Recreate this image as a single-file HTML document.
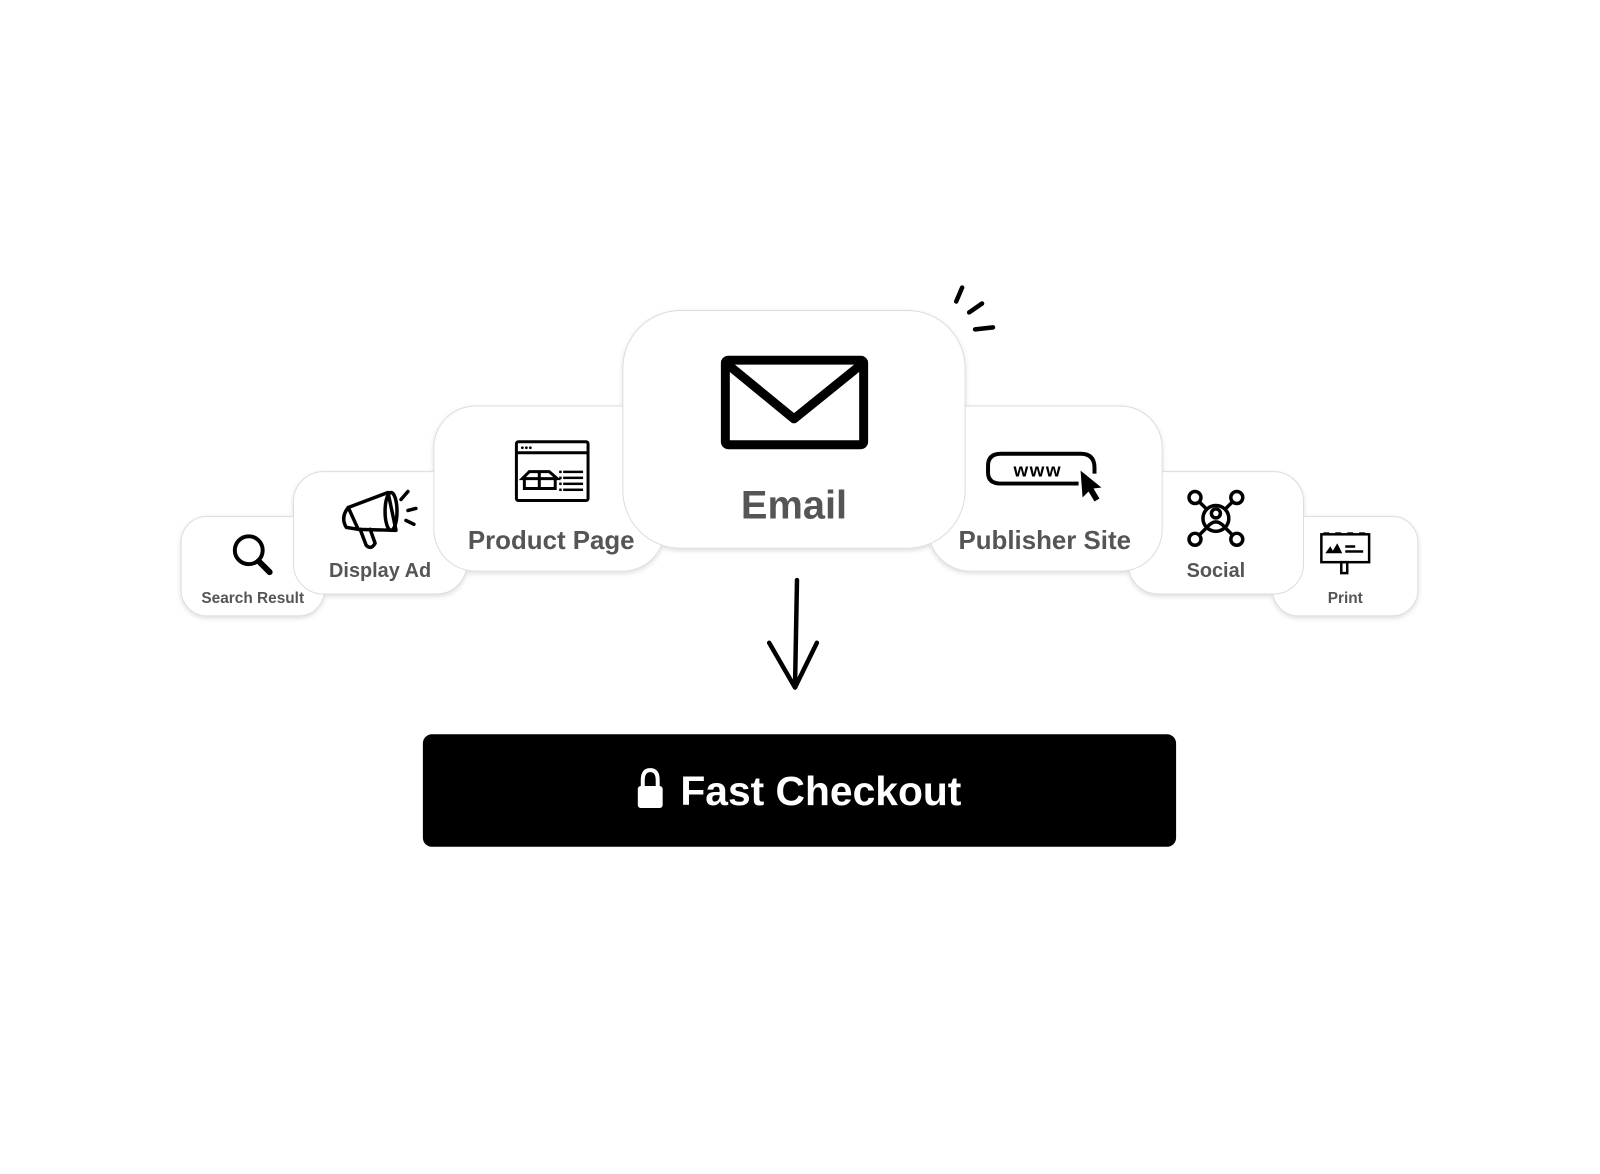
<!DOCTYPE html>
<html><head><meta charset="utf-8"><style>
html,body{margin:0;padding:0;background:#fff;}
body{width:1600px;height:1169px;overflow:hidden;}
text{font-family:"Liberation Sans",sans-serif;font-weight:bold;}
</style></head><body>
<svg width="1600" height="1169" viewBox="0 0 1600 1169" xmlns="http://www.w3.org/2000/svg">
<defs>
<filter id="sh" x="-20%" y="-20%" width="140%" height="150%">
<feDropShadow dx="0" dy="2" stdDeviation="2.5" flood-color="#000" flood-opacity="0.13"/>
</filter>
</defs>
<g transform="scale(0.995)">
<g stroke="#dcdcdc" stroke-width="1" fill="#fff" filter="url(#sh)">
<rect x="182" y="519" width="144" height="100" rx="26"/>
<rect x="295" y="474" width="174" height="123" rx="30"/>
<rect x="436" y="408" width="232" height="166" rx="42"/>
<rect x="1279" y="519" width="146" height="100" rx="26"/>
<rect x="1134" y="474" width="176" height="123" rx="30"/>
<rect x="933" y="408" width="235" height="166" rx="42"/>
<rect x="626" y="312" width="344" height="239" rx="58"/>
</g>

<g fill="none" stroke="#000" stroke-width="4" stroke-linecap="round">
<circle cx="250" cy="553" r="14"/>
<line x1="260" y1="564" x2="271" y2="575" stroke-width="6"/>
</g>
<text x="254" y="606" font-size="15.5" fill="#555" text-anchor="middle">Search Result</text>

<g fill="none" stroke="#000" stroke-width="3.5" stroke-linejoin="round" stroke-linecap="round">
<path d="M350 510 L390 495 L398 533 L360 532 Z"/>
<ellipse cx="393" cy="514" rx="6" ry="19"/>
<path d="M350 510 Q342 520 348 530 L360 532"/>
<path d="M362 532 L368 548 Q373 553 377 546 L372 532"/>
<line x1="403" y1="502" x2="410" y2="494"/>
<line x1="410" y1="513" x2="418" y2="511"/>
<line x1="408" y1="523" x2="416" y2="527"/>
</g>
<text x="382" y="580" font-size="20" fill="#555" text-anchor="middle">Display Ad</text>

<g fill="none" stroke="#000" stroke-width="3">
<rect x="519" y="444" width="72" height="59" rx="2"/>
<line x1="519" y1="455" x2="591" y2="455"/>
<path d="M525 481 L532 474 L552 474 L560 481 L525 481 Z M527 481 L527 491 L558 491 L558 481 M542 474 L542 491"/>
</g>
<g fill="#000"><circle cx="525" cy="450" r="1.4"/><circle cx="529" cy="450" r="1.4"/><circle cx="533" cy="450" r="1.4"/>
<rect x="566" y="473" width="20" height="2.5"/><rect x="566" y="479" width="20" height="2.5"/><rect x="566" y="485" width="20" height="2.5"/><rect x="566" y="491" width="20" height="2.5"/>
<rect x="562" y="473" width="2.5" height="2.5"/><rect x="562" y="479" width="2.5" height="2.5"/><rect x="562" y="485" width="2.5" height="2.5"/><rect x="562" y="491" width="2.5" height="2.5"/></g>
<text x="554" y="552" font-size="26" fill="#555" text-anchor="middle">Product Page</text>

<g fill="none" stroke="#000" stroke-width="9" stroke-linejoin="round">
<rect x="729" y="362" width="139" height="85" rx="3"/>
<path d="M731 366 L798 421 L866 366"/>
</g>
<text x="798" y="521" font-size="40" fill="#555" text-anchor="middle">Email</text>

<g stroke="#000" stroke-width="4.5" stroke-linecap="round">
<line x1="961" y1="303" x2="967" y2="289"/>
<line x1="974" y1="314" x2="987" y2="305"/>
<line x1="980" y1="331" x2="998" y2="329"/>
</g>

<g fill="none" stroke="#000" stroke-width="4">
<path d="M1084 486 L1006 486 Q993 486 993 475 L993 468 Q993 456 1006 456 L1086 456 Q1100 456 1100 470 L1100 476"/>
</g>
<text x="1043" y="479" font-size="19" fill="#000" text-anchor="middle" letter-spacing="1.5">www</text>
<path d="M1086 473 L1088 500 L1094 494 L1100 504 L1105 501 L1099 491 L1107 490 Z" fill="#000"/>
<text x="1050" y="552" font-size="26" fill="#555" text-anchor="middle">Publisher Site</text>

<g fill="none" stroke="#000" stroke-width="3.5">
<circle cx="1222" cy="521" r="13"/>
<circle cx="1222" cy="516" r="4.5"/>
<path d="M1213 530 Q1222 519 1231 530"/>
<circle cx="1201" cy="500" r="6"/><circle cx="1243" cy="500" r="6"/>
<circle cx="1201" cy="542" r="6"/><circle cx="1243" cy="542" r="6"/>
<line x1="1205" y1="504" x2="1213" y2="512"/><line x1="1239" y1="504" x2="1231" y2="512"/>
<line x1="1205" y1="538" x2="1213" y2="530"/><line x1="1239" y1="538" x2="1231" y2="530"/>
</g>
<text x="1222" y="580" font-size="20" fill="#555" text-anchor="middle">Social</text>

<g fill="none" stroke="#000" stroke-width="2.5">
<rect x="1328" y="537" width="48" height="28"/>
<rect x="1348" y="565" width="6" height="11"/>
</g>
<g fill="#000">
<rect x="1330" y="535" width="6" height="3"/><rect x="1342" y="535" width="6" height="3"/><rect x="1354" y="535" width="6" height="3"/><rect x="1366" y="535" width="6" height="3"/>
<path d="M1332 556 L1337 549 L1341 556 Z M1338 556 L1344 546 L1349 556 Z"/>
<rect x="1352" y="548" width="10" height="2.5"/><rect x="1352" y="553" width="18" height="2.5"/>
</g>
<text x="1352" y="606" font-size="15.5" fill="#555" text-anchor="middle">Print</text>

<g fill="none" stroke="#000" stroke-width="4.5" stroke-linecap="round" stroke-linejoin="round">
<line x1="801" y1="583" x2="799" y2="690"/>
<path d="M773 646 L799 691 L821 646"/>
</g>

<rect x="425" y="738" width="757" height="113" rx="9" fill="#000"/>
<g fill="#fff">
<rect x="641" y="790" width="25" height="22" rx="3"/>
<path d="M646 791 L646 784 Q646 774 653.5 774 Q661 774 661 784 L661 791" fill="none" stroke="#fff" stroke-width="4"/>
</g>
<text x="825" y="809" font-size="41" fill="#fff" text-anchor="middle">Fast Checkout</text>
</g>
</svg>
</body></html>
